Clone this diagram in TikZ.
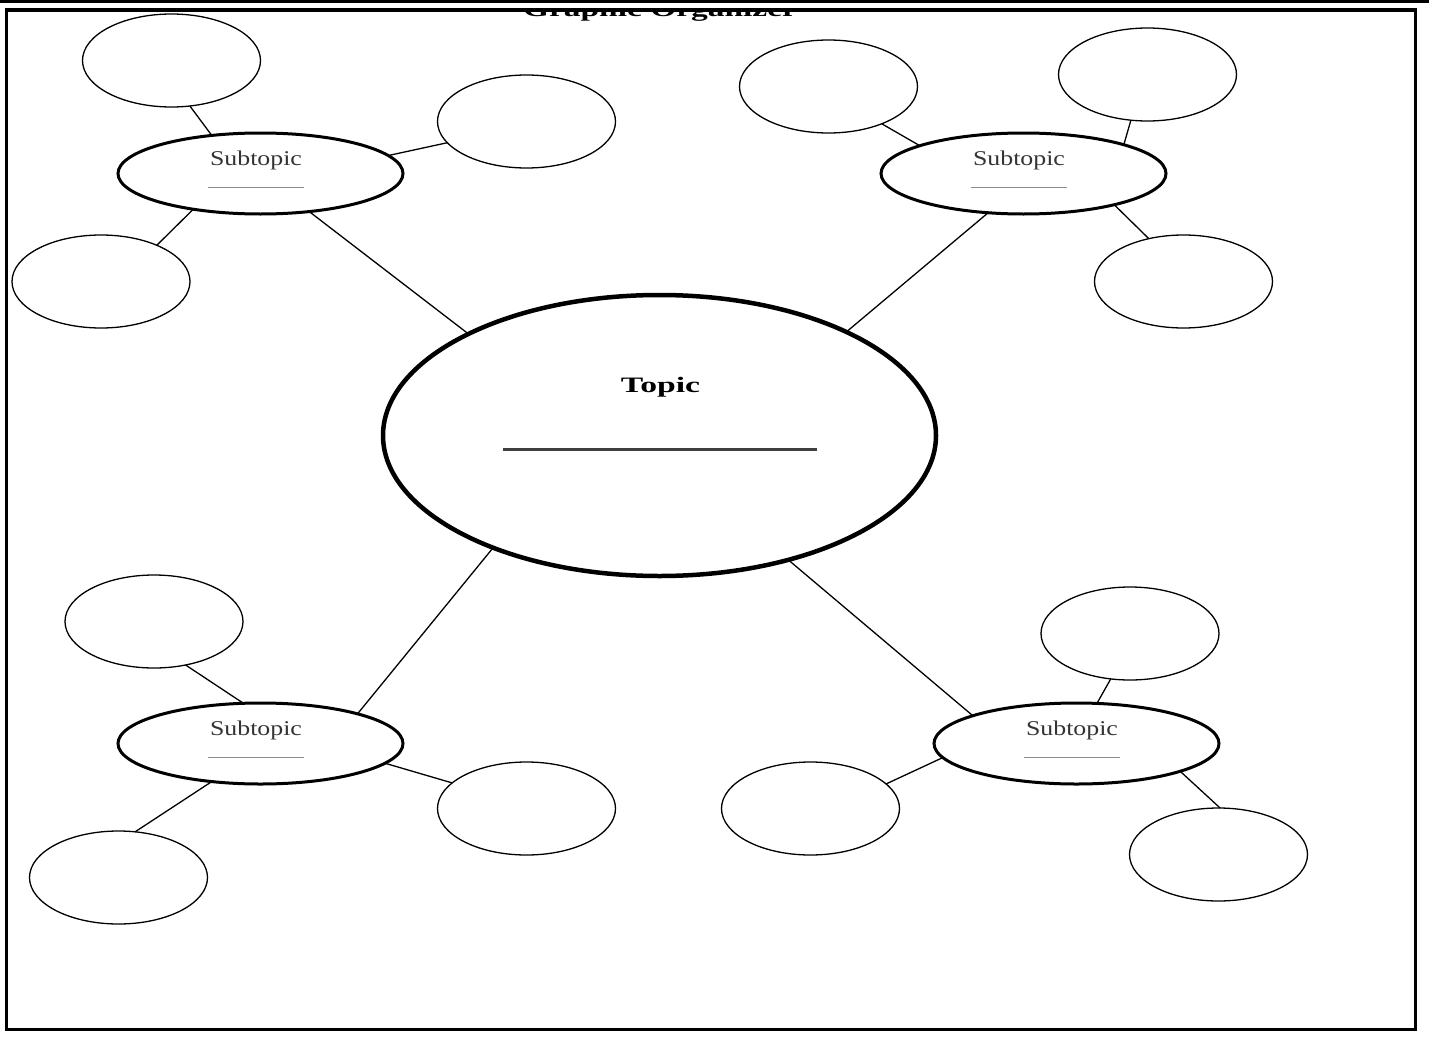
\documentclass[tikz,border=0pt]{standalone}
\usepackage{fontspec}
\setmainfont{Liberation Serif}
\usepackage{graphicx}
\usetikzlibrary{shapes.geometric}
\begin{document}
\begin{tikzpicture}[x=1pt,y=-1pt,
  leaf/.style={ellipse, draw, line width=1.3pt, minimum width=178pt, minimum height=93pt, inner sep=0pt, outer sep=0pt},
  sub/.style={ellipse, draw, line width=3pt, minimum width=285pt, minimum height=81pt, inner sep=0pt, outer sep=0pt},
  hub/.style={ellipse, draw, line width=4.5pt, minimum width=553pt, minimum height=281pt, inner sep=0pt, outer sep=0pt},
  link/.style={line width=1.3pt},
  sublabel/.style={font=\fontsize{21}{25}\selectfont, text=black!80, anchor=base, inner sep=0pt},
  hublabel/.style={font=\fontsize{22}{26}\selectfont\bfseries, anchor=base, inner sep=0pt},
  subline/.style={line width=1.4pt, black!45},
  hubline/.style={line width=2.5pt, black!75},
  frame/.style={line width=3.5pt}
]
\useasboundingbox (0,0) rectangle (1429,1041);
\fill[white] (0,0) rectangle (1429,1041);

% title, cut by the frame
\begin{scope}
  \clip (0,11.5) rectangle (1429,40);
  \node[hublabel] (title) at (660,16.5) {\scalebox{1.52}[1]{Graphic Organizer}};
\end{scope}

% top bar and frame
\fill[black] (0,0) rectangle (1429,3.3);
\draw[frame] (6.5,10) rectangle (1415.5,1029.5);

% hub
\node[hub] (topic) at (659.5,435.5) {};
\node[hublabel] (topictext) at (660.5,392) {\scalebox{1.53}[1]{Topic}};
\draw[hubline] (503,449.3) -- (817,449.3);

% subtopics
\node[sub] (stl) at (260.5,173.5) {};
\node[sub] (str) at (1023.5,173.5) {};
\node[sub] (sbl) at (260.5,743.5) {};
\node[sub] (sbr) at (1076.5,743.5) {};
\foreach \s in {stl,str,sbl,sbr}{
  \node[sublabel] (\s text) at ([xshift=-4.5pt,yshift=8.5pt]\s.center) {\scalebox{1.23}[1]{Subtopic}};
  \draw[subline] ([xshift=-53pt,yshift=-14pt]\s.center) -- ([xshift=43pt,yshift=-14pt]\s.center);
}

% leaves
\node[leaf] (c1) at (171.5,60.5) {};
\node[leaf] (c2) at (526.5,121.5) {};
\node[leaf] (c3) at (101,281.5) {};
\node[leaf] (c4) at (828.5,86.5) {};
\node[leaf] (c5) at (1147.5,74.5) {};
\node[leaf] (c6) at (1183.5,281.5) {};
\node[leaf] (c7) at (154,621.5) {};
\node[leaf] (c8) at (526.5,808.5) {};
\node[leaf] (c9) at (118.5,877.5) {};
\node[leaf] (c10) at (1130,633.5) {};
\node[leaf] (c11) at (810.5,808.5) {};
\node[leaf] (c12) at (1218.5,854.5) {};

% connectors
\draw[link] (stl.142.4) -- (c1.292.6);
\draw[link] (stl.8.8) -- (c2.195.8);
\draw[link] (stl.208.6) -- (c3.33.1);
\draw[link] (stl.322.9) -- (topic.152.7);
\draw[link] (str.165.9) -- (c4.325.4);
\draw[link] (str.16.9) -- (c5.250.5);
\draw[link] (str.341.4) -- (c6.129.1);
\draw[link] (str.228.8) -- (topic.29.3);
\draw[link] (sbl.113.4) -- (c7.306.8);
\draw[link] (sbl.17.1) -- (topic.214.8);
\draw[link] (sbl.351.8) -- (c8.161.3);
\draw[link] (sbl.218.2) -- (c9.70.5);
\draw[link] (sbr.63.2) -- (c10.247.3);
\draw[link] (sbr.165.4) -- (topic.316.3);
\draw[link] (sbr.186.7) -- (c11.18.9);
\draw[link] (sbr.345.3) -- (c12.88.2);
\end{tikzpicture}
\end{document}
